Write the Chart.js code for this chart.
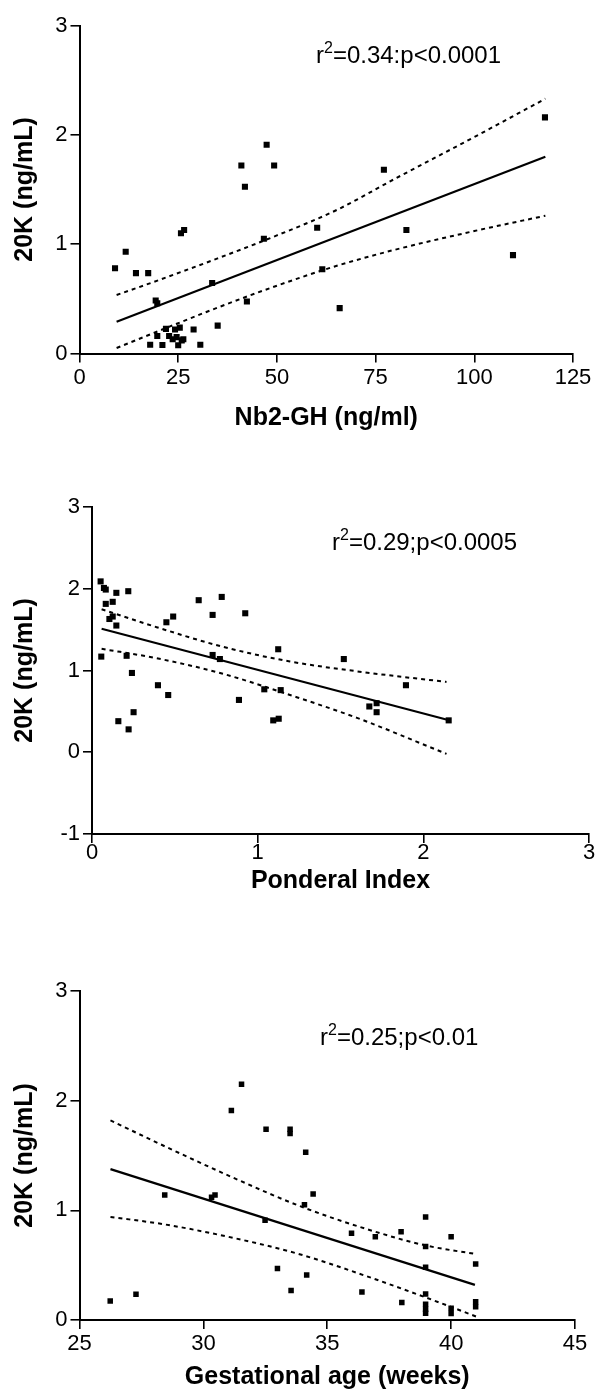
<!DOCTYPE html>
<html><head><meta charset="utf-8">
<script src="https://cdn.jsdelivr.net/npm/chart.js@4.4.1/dist/chart.umd.min.js"></script>
<style>
html,body{margin:0;padding:0;background:#fff;}
canvas{position:absolute;left:0;}
</style></head><body>
<canvas id="c1" width="597" height="470" style="top:0px"></canvas>
<canvas id="c2" width="597" height="440" style="top:480px"></canvas>
<canvas id="c3" width="597" height="440" style="top:960px"></canvas>
<script>
// ---------- Panel 1: Nb2-GH vs 20K ----------
const nbX = [9.0, 11.7, 14.3, 17.4, 19.3, 19.7, 17.9, 19.7, 21.0, 21.9, 22.7, 23.6, 24.2, 24.6, 25.0, 25.4, 25.7, 26.5, 25.9, 26.3, 28.9, 30.6, 33.6, 35.0, 41.0, 41.9, 42.4, 46.7, 47.4, 49.3, 60.2, 61.5, 65.9, 77.1, 82.8, 109.8, 117.9];
const nbY = [0.78, 0.93, 0.735, 0.735, 0.485, 0.46, 0.08, 0.16, 0.078, 0.225, 0.16, 0.13, 0.22, 0.15, 0.075, 0.237, 1.10, 1.13, 0.12, 0.13, 0.22, 0.08, 0.645, 0.255, 1.72, 1.525, 0.475, 1.05, 1.91, 1.72, 1.15, 0.77, 0.415, 1.68, 1.13, 0.90, 2.16];
const nbFitX = [9.4, 118];
const nbFitY = [0.29, 1.80];
const nbCiX = [9.4, 20, 35, 50, 65, 80, 100, 118];
const nbCiUp = [0.535, 0.67, 0.87, 1.08, 1.31, 1.60, 1.98, 2.33];
const nbCiLo = [0.05, 0.205, 0.42, 0.62, 0.80, 0.95, 1.12, 1.26];
const nbXTicks = [0, 25, 50, 75, 100, 125];
const nbYTicks = [0, 1, 2, 3];

// ---------- Panel 2: Ponderal Index vs 20K ----------
const piX = [0.052, 0.072, 0.083, 0.083, 0.125, 0.147, 0.219, 0.105, 0.125, 0.147, 0.056, 0.209, 0.241, 0.159, 0.221, 0.251, 0.398, 0.46, 0.449, 0.49, 0.644, 0.728, 0.783, 0.728, 0.772, 0.925, 0.887, 1.04, 1.094, 1.127, 1.124, 1.139, 1.52, 1.895, 1.674, 1.718, 1.718, 2.153];
const piY = [2.09, 2.01, 1.99, 1.815, 1.84, 1.95, 1.97, 1.63, 1.66, 1.55, 1.17, 1.18, 0.97, 0.38, 0.28, 0.49, 0.82, 0.70, 1.59, 1.66, 1.86, 1.68, 1.90, 1.19, 1.14, 1.70, 0.64, 0.77, 0.39, 0.41, 1.26, 0.76, 1.14, 0.82, 0.56, 0.60, 0.49, 0.39];
const piFitX = [0.058, 2.15];
const piFitY = [1.51, 0.395];
const piCiX = [0.058, 0.39, 0.79, 1.195, 1.6, 2.14];
const piCiUp = [1.75, 1.53, 1.29, 1.11, 0.99, 0.86];
const piCiLo = [1.265, 1.15, 0.96, 0.70, 0.42, -0.02];
const piXTicks = [0, 1, 2, 3];
const piYTicks = [-1, 0, 1, 2, 3];

// ---------- Panel 3: Gestational age vs 20K ----------
const gaX = [26.24, 27.28, 28.44, 30.33, 30.47, 31.13, 31.54, 32.49, 32.53, 32.99, 33.50, 33.50, 33.54, 34.13, 34.08, 34.17, 34.43, 35.98, 36.40, 36.94, 37.98, 38.01, 38.97, 38.97, 38.97, 38.97, 38.97, 38.97, 38.97, 40.0, 40.0, 40.0, 40.99, 40.99, 40.99];
const gaY = [0.173, 0.234, 1.14, 1.12, 1.14, 1.91, 2.15, 0.91, 1.74, 0.47, 1.74, 1.70, 0.27, 1.53, 1.05, 0.41, 1.15, 0.79, 0.255, 0.76, 0.805, 0.16, 0.94, 0.67, 0.48, 0.237, 0.143, 0.098, 0.061, 0.76, 0.107, 0.06, 0.51, 0.167, 0.12];
const gaFitX = [26.25, 40.96];
const gaFitY = [1.376, 0.32];
const gaCiX = [26.25, 28.48, 31.18, 33.88, 36.58, 38.97, 41.03];
const gaCiUp = [1.82, 1.58, 1.30, 1.04, 0.83, 0.68, 0.60];
const gaCiX2 = [26.25, 28.48, 31.18, 33.88, 36.58, 39.28, 41.03];
const gaCiLo = [0.94, 0.87, 0.75, 0.60, 0.40, 0.18, 0.03];
const gaXTicks = [25, 30, 35, 40, 45];
const gaYTicks = [0, 1, 2, 3];

const FAM = '"Liberation Sans", Arial, Helvetica, sans-serif';

const annotPlugin = {
  id: 'annot',
  afterDatasetsDraw(chart, args, o) {
    const ctx = chart.ctx;
    ctx.save();
    ctx.fillStyle = '#000';
    ctx.textBaseline = 'alphabetic';
    let x = o.x;
    const y = o.y;
    ctx.font = o.size + 'px ' + FAM;
    ctx.fillText('r', x, y);
    x += ctx.measureText('r').width;
    ctx.font = Math.round(o.size * 0.65) + 'px ' + FAM;
    ctx.fillText('2', x, y - o.size * 0.42);
    x += ctx.measureText('2').width;
    ctx.font = o.size + 'px ' + FAM;
    ctx.fillText(o.text, x, y);
    ctx.restore();
  }
};

function pts(xs, ys) { return xs.map((v, i) => ({x: v, y: ys[i]})); }

function makeChart(id, d) {
  const H = d.H;
  new Chart(document.getElementById(id), {
    type: 'scatter',
    plugins: [annotPlugin],
    data: {
      datasets: [
        {data: pts(d.ciX, d.ciUp), showLine: true, borderColor: '#000', borderWidth: 2, borderDash: [4, 4], pointRadius: 0, cubicInterpolationMode: 'monotone', fill: false},
        {data: pts(d.ciX2 || d.ciX, d.ciLo), showLine: true, borderColor: '#000', borderWidth: 2, borderDash: [4, 4], pointRadius: 0, cubicInterpolationMode: 'monotone', fill: false},
        {data: pts(d.fitX, d.fitY), showLine: true, borderColor: '#000', borderWidth: 2.2, pointRadius: 0, fill: false},
        {data: pts(d.x, d.y), pointStyle: 'rect', pointRadius: d.pr, pointBackgroundColor: '#000', pointBorderWidth: 0, showLine: false}
      ]
    },
    options: {
      responsive: false,
      animation: false,
      events: [],
      layout: {padding: {top: d.top, right: 597 - d.right, left: 0, bottom: 0}},
      plugins: {
        legend: {display: false},
        tooltip: {enabled: false},
        annot: d.annot
      },
      scales: {
        x: {
          type: 'linear', min: d.xmin, max: d.xmax,
          afterBuildTicks: s => { s.ticks = d.xTicks.map(v => ({value: v})); },
          afterFit: s => { s.height = H - d.bottom; },
          grid: {drawOnChartArea: false, drawTicks: true, tickLength: 9, color: '#000', lineWidth: 1.6},
          border: {display: true, color: '#000', width: 2},
          ticks: {color: '#000', font: {family: FAM, size: 22}, padding: d.xtkPad, maxRotation: 0, autoSkip: false},
          title: {display: true, text: d.xTitle, color: '#000', font: {family: FAM, size: 25, weight: 'bold'}, padding: {top: 0, bottom: d.xtPad}}
        },
        y: {
          type: 'linear', min: d.ymin, max: d.ymax,
          afterBuildTicks: s => { s.ticks = d.yTicks.map(v => ({value: v})); },
          afterFit: s => { s.width = d.left; },
          grid: {drawOnChartArea: false, drawTicks: true, tickLength: 9, color: '#000', lineWidth: 1.6},
          border: {display: true, color: '#000', width: 2},
          ticks: {color: '#000', font: {family: FAM, size: 22}, padding: 3, autoSkip: false},
          title: {display: true, text: '20K (ng/mL)', color: '#000', font: {family: FAM, size: 25, weight: 'bold'}, padding: {top: 10, bottom: 0}}
        }
      }
    }
  });
}

makeChart('c1', {
  H: 470, top: 25.5, bottom: 353.5, left: 79.5, right: 573,
  x: nbX, y: nbY, fitX: nbFitX, fitY: nbFitY, ciX: nbCiX, ciUp: nbCiUp, ciLo: nbCiLo,
  xmin: 0, xmax: 125, ymin: 0, ymax: 3, xTicks: nbXTicks, yTicks: nbYTicks,
  xTitle: 'Nb2-GH (ng/ml)', xtPad: 37, xtkPad: 2, pr: 4.3,
  annot: {x: 316, y: 63, size: 24, text: '=0.34:p<0.0001'}
});
makeChart('c2', {
  H: 440, top: 27, bottom: 354, left: 92, right: 589,
  x: piX, y: piY, fitX: piFitX, fitY: piFitY, ciX: piCiX, ciUp: piCiUp, ciLo: piCiLo,
  xmin: 0, xmax: 3, ymin: -1, ymax: 3, xTicks: piXTicks, yTicks: piYTicks,
  xTitle: 'Ponderal Index', xtPad: 24, xtkPad: -3, pr: 4.3,
  annot: {x: 332, y: 70, size: 24, text: '=0.29;p<0.0005'}
});
makeChart('c3', {
  H: 440, top: 31, bottom: 360, left: 79.5, right: 575,
  x: gaX, y: gaY, fitX: gaFitX, fitY: gaFitY, ciX: gaCiX, ciUp: gaCiUp, ciX2: gaCiX2, ciLo: gaCiLo,
  xmin: 25, xmax: 45, ymin: 0, ymax: 3, xTicks: gaXTicks, yTicks: gaYTicks,
  xTitle: 'Gestational age (weeks)', xtPad: 8, xtkPad: 2, pr: 3.9,
  annot: {x: 320, y: 85, size: 24, text: '=0.25;p<0.01'}
});
</script>
</body></html>
